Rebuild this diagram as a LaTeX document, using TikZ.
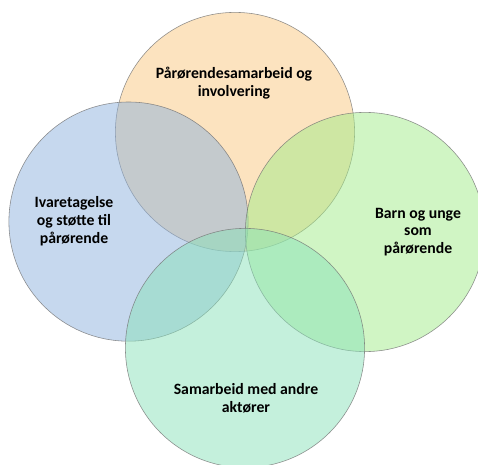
\documentclass[tikz,border=0pt]{standalone}
\usepackage{fontspec}
\setmainfont{Carlito}
\definecolor{orangekr}{RGB}{249,199,127}
\definecolor{blaakr}{RGB}{141,177,221}
\definecolor{gronnkr}{RGB}{161,235,137}
\definecolor{mintkr}{RGB}{137,225,185}
\begin{document}
\begin{tikzpicture}[
 kr/.style={circle,draw=black!55,line width=.4pt,fill opacity=.5,draw opacity=.8,minimum size=5.98cm,inner sep=0pt},
 kr1/.style={kr,fill=orangekr},
 kr2/.style={kr,fill=blaakr},
 kr3/.style={kr,fill=gronnkr},
 kr4/.style={kr,fill=mintkr},
 tx/.style={font=\bfseries\fontsize{11.2}{12.5}\selectfont,align=center,inner sep=0pt},
 ]
 \useasboundingbox (0,0) rectangle (11.95,11.6);
 %Kreise
 \node[kr1] (oben)   at (5.875,8.3)   {};
 \node[kr2] (links)  at (3.2125,6.06) {};
 \node[kr3] (rechts) at (9.125,5.8)   {};
 \node[kr4] (unten)  at (6.125,2.9)   {};
 %Beschriftung
 \node[tx] (toben)   at (5.85,9.52)  {Pårørendesamarbeid og\\involvering};
 \node[tx] (tlinks)  at (1.85,6.07)  {Ivaretagelse\\og støtte til\\pårørende};
 \node[tx] (trechts) at (10.45,5.8)  {Barn og unge\\som\\pårørende};
 \node[tx] (tunten)  at (6.15,1.65)  {Samarbeid med andre\\aktører};
\end{tikzpicture}
\end{document}
